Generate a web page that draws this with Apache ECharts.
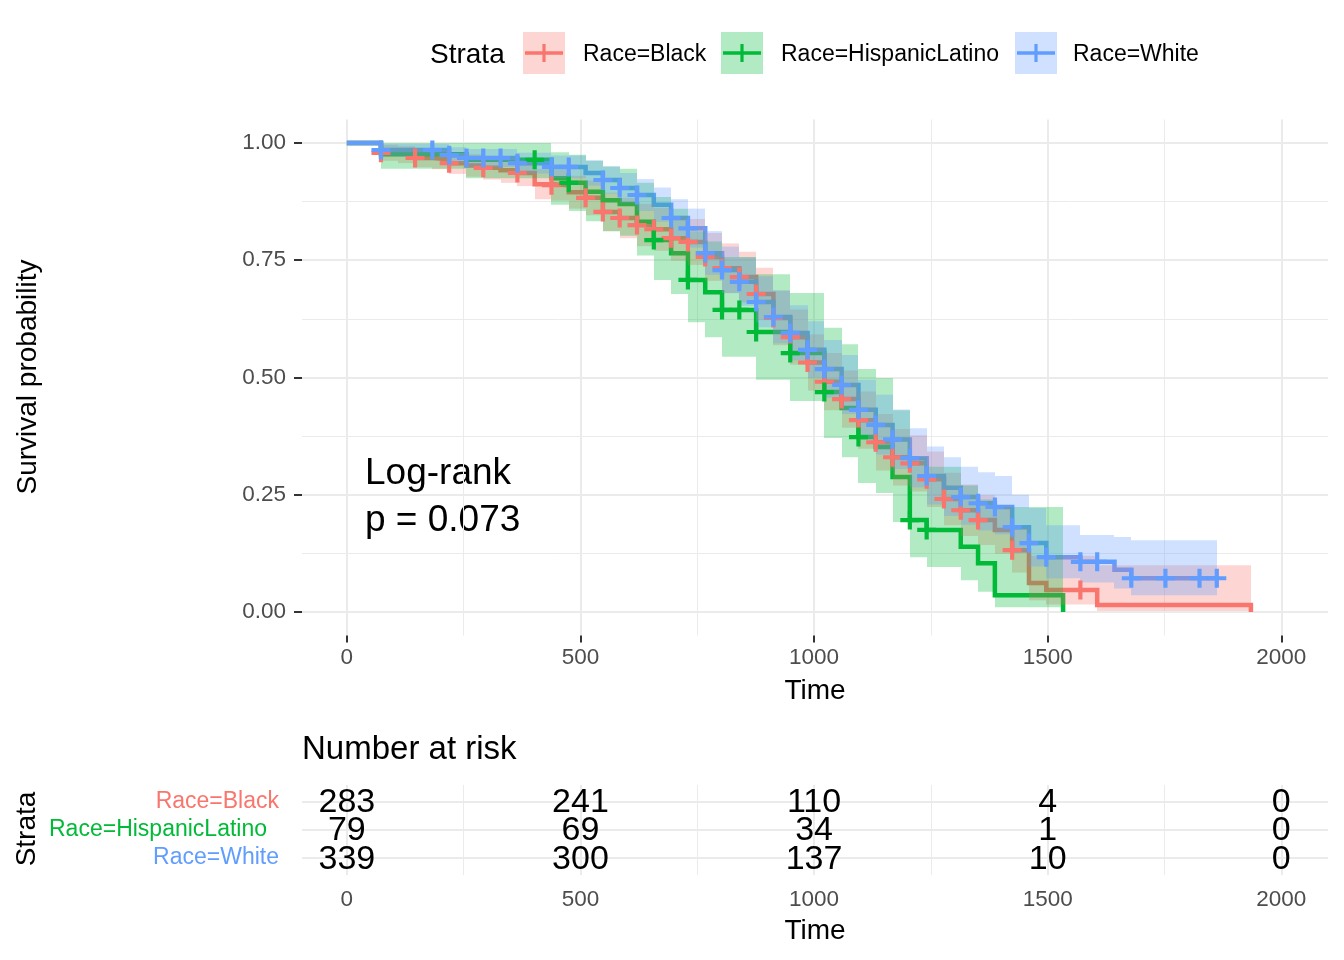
<!DOCTYPE html>
<html>
<head>
<meta charset="utf-8">
<script src="https://cdn.jsdelivr.net/npm/echarts@6.0.0/dist/echarts.min.js"></script>
<style>
html, body { margin: 0; padding: 0; background: #fff; }
#chart { width: 1344px; height: 960px; }
</style>
</head>
<body>
<div id="chart"></div>
<script>
var FONT = '"Liberation Sans", Arial, sans-serif';

//分組名稱與顏色
var strata = ['Race=Black', 'Race=HispanicLatino', 'Race=White'];
var colors = ['#F8766D', '#00BA38', '#619CFF'];
var bandColors = ['rgba(248,118,109,0.3)', 'rgba(0,186,56,0.3)', 'rgba(97,156,255,0.3)'];

//Race=Black 存活曲線
var blackTime = [0, 73, 110, 146, 183, 219, 256, 292, 329, 365, 402, 438, 475, 511, 548, 584, 621, 657, 694, 730,
    767, 803, 840, 876, 913, 949, 986, 1022, 1059, 1095, 1132, 1168, 1205, 1241, 1278, 1314, 1351, 1387, 1424, 1460,
    1497, 1606, 1935];
var blackSurv = [1.000, 0.979, 0.975, 0.968, 0.965, 0.957, 0.952, 0.947, 0.942, 0.936, 0.912, 0.910, 0.895, 0.883, 0.853, 0.840, 0.825, 0.816, 0.797, 0.789,
    0.757, 0.733, 0.714, 0.678, 0.627, 0.586, 0.532, 0.491, 0.454, 0.409, 0.362, 0.330, 0.317, 0.283, 0.241, 0.217, 0.196, 0.175, 0.132, 0.062,
    0.047, 0.015, 0.000];
var blackLower = [1.000, 0.962, 0.957, 0.948, 0.944, 0.934, 0.928, 0.922, 0.915, 0.908, 0.880, 0.877, 0.860, 0.846, 0.812, 0.797, 0.780, 0.770, 0.749, 0.740,
    0.706, 0.680, 0.660, 0.622, 0.569, 0.527, 0.472, 0.430, 0.393, 0.348, 0.302, 0.270, 0.257, 0.224, 0.185, 0.162, 0.143, 0.124, 0.084, 0.025,
    0.016, 0.002, 0.000];
var blackUpper = [1.000, 0.996, 0.993, 0.988, 0.986, 0.980, 0.976, 0.972, 0.969, 0.964, 0.944, 0.943, 0.930, 0.920, 0.894, 0.883, 0.870, 0.862, 0.845, 0.838,
    0.808, 0.786, 0.768, 0.734, 0.685, 0.645, 0.592, 0.552, 0.515, 0.470, 0.422, 0.390, 0.377, 0.342, 0.297, 0.272, 0.249, 0.226, 0.180, 0.120,
    0.120, 0.100, 0.000];
var blackCensor = [73, 146, 219, 292, 365, 438, 511, 548, 584, 621, 657, 694, 730, 767, 803, 840, 876, 913, 949, 986,
    1022, 1059, 1095, 1132, 1168, 1205, 1241, 1278, 1314, 1351, 1424, 1570];

//Race=HispanicLatino 存活曲線
var hispTime = [0, 73, 256, 438, 475, 511, 548, 584, 621, 657, 694, 730, 767, 803, 876, 949, 1022, 1059, 1095, 1132,
    1168, 1205, 1241, 1314, 1351, 1387, 1533];
var hispSurv = [1.000, 0.976, 0.964, 0.925, 0.915, 0.896, 0.878, 0.870, 0.832, 0.793, 0.765, 0.708, 0.682, 0.644, 0.597, 0.552, 0.469, 0.435, 0.373, 0.352,
    0.288, 0.196, 0.175, 0.139, 0.104, 0.036, 0.000];
var hispLower = [1.000, 0.945, 0.925, 0.868, 0.855, 0.833, 0.812, 0.802, 0.760, 0.708, 0.678, 0.618, 0.586, 0.544, 0.495, 0.450, 0.371, 0.330, 0.275, 0.254,
    0.192, 0.117, 0.096, 0.068, 0.043, 0.010, 0.000];
var hispUpper = [1.000, 1.000, 1.000, 0.980, 0.975, 0.962, 0.950, 0.945, 0.915, 0.885, 0.860, 0.812, 0.790, 0.757, 0.720, 0.680, 0.606, 0.571, 0.518, 0.499,
    0.430, 0.330, 0.310, 0.270, 0.240, 0.224, 0.000];
var hispCensor = [402, 475, 657, 730, 803, 840, 876, 949, 1022, 1095, 1205, 1241];

//Race=White 存活曲線
var whiteTime = [0, 73, 219, 256, 365, 438, 511, 548, 584, 621, 657, 694, 730, 767, 803, 840, 876, 913, 949, 986,
    1022, 1059, 1095, 1132, 1168, 1205, 1241, 1278, 1314, 1351, 1387, 1424, 1460, 1497, 1570, 1643, 1679, 1862];
var whiteSurv = [1.000, 0.985, 0.974, 0.968, 0.957, 0.949, 0.936, 0.921, 0.904, 0.889, 0.868, 0.840, 0.818, 0.765, 0.729, 0.704, 0.661, 0.629, 0.595, 0.559,
    0.518, 0.484, 0.431, 0.399, 0.368, 0.328, 0.290, 0.265, 0.245, 0.232, 0.224, 0.181, 0.147, 0.117, 0.107, 0.090, 0.072, 0.072];
var whiteLower = [1.000, 0.972, 0.957, 0.949, 0.935, 0.925, 0.909, 0.892, 0.872, 0.855, 0.832, 0.801, 0.777, 0.719, 0.680, 0.653, 0.607, 0.573, 0.537, 0.499,
    0.457, 0.422, 0.368, 0.336, 0.305, 0.266, 0.229, 0.205, 0.186, 0.174, 0.166, 0.127, 0.097, 0.072, 0.063, 0.050, 0.036, 0.036];
var whiteUpper = [1.000, 0.998, 0.991, 0.987, 0.979, 0.973, 0.963, 0.950, 0.936, 0.923, 0.905, 0.880, 0.860, 0.812, 0.779, 0.756, 0.716, 0.686, 0.654, 0.620,
    0.580, 0.548, 0.495, 0.463, 0.432, 0.392, 0.353, 0.330, 0.310, 0.298, 0.290, 0.250, 0.222, 0.185, 0.164, 0.160, 0.153, 0.153];
var whiteCensor = [73, 183, 219, 256, 292, 329, 365, 438, 475, 548, 584, 621, 694, 730, 767, 803, 840, 876, 913, 949,
    986, 1022, 1059, 1095, 1132, 1168, 1205, 1241, 1314, 1351, 1387, 1424, 1460, 1497, 1570, 1606, 1679, 1752, 1825, 1862];

//風險表
var riskTimes = [0, 500, 1000, 1500, 2000];
var riskBlack = [283, 241, 110, 4, 0];
var riskHisp = [79, 69, 34, 1, 0];
var riskWhite = [339, 300, 137, 10, 0];

//刻度
var xTicks = [0, 500, 1000, 1500, 2000];
var xMinor = [250, 750, 1250, 1750];
var yTicks = [0, 0.25, 0.5, 0.75, 1];
var yMinor = [0.125, 0.375, 0.625, 0.875];

var pValueText = 'Log-rank\np = 0.073';

var groups = [
    { time: blackTime, surv: blackSurv, lower: blackLower, upper: blackUpper, censor: blackCensor, risk: riskBlack },
    { time: hispTime, surv: hispSurv, lower: hispLower, upper: hispUpper, censor: hispCensor, risk: riskHisp },
    { time: whiteTime, surv: whiteSurv, lower: whiteLower, upper: whiteUpper, censor: whiteCensor, risk: riskWhite }
];

var plusPath = 'path://M0,39L39,39L39,0L61,0L61,39L100,39L100,61L61,61L61,100L39,100L39,61L0,61Z';

//取得某時間點的存活率
function survAt(g, t) {
    var v = g.surv[0];
    for (var i = 0; i < g.time.length; i++) {
        if (g.time[i] <= t) v = g.surv[i];
    }
    return v;
}

function pairs(xs, ys) {
    return xs.map(function (x, i) { return [x, ys[i]]; });
}

var series = [];

//存活曲線（最底層）
groups.forEach(function (g, k) {
    series.push({
        type: 'line', name: strata[k], step: 'end', z: 2,
        xAxisIndex: 0, yAxisIndex: 0,
        data: pairs(g.time, g.surv),
        symbol: 'none', silent: true,
        lineStyle: { color: colors[k], width: 4.5, join: 'miter' }
    });
});

//信賴區間（疊在曲線上），每段一個矩形
groups.forEach(function (g, k) {
    var ribbon = [];
    for (var i = 0; i < g.time.length - 1; i++) {
        ribbon.push([g.time[i], g.time[i + 1], g.lower[i], g.upper[i]]);
    }
    series.push({
        type: 'custom', z: 3, silent: true,
        xAxisIndex: 0, yAxisIndex: 0,
        encode: { x: [0, 1], y: [2, 3] },
        data: ribbon,
        renderItem: function (params, api) {
            var a = api.coord([api.value(0), api.value(3)]);
            var b = api.coord([api.value(1), api.value(2)]);
            var x0 = Math.round(a[0]), x1 = Math.round(b[0]);
            return {
                type: 'rect',
                shape: { x: x0, y: a[1], width: x1 - x0, height: b[1] - a[1] },
                style: { fill: bandColors[k] }
            };
        }
    });
});

//刪失標記
groups.forEach(function (g, k) {
    series.push({
        type: 'scatter', z: 4, silent: true,
        xAxisIndex: 0, yAxisIndex: 0,
        symbol: plusPath, symbolSize: 19,
        itemStyle: { color: colors[k], opacity: 1 },
        data: g.censor.map(function (t) { return [t, survAt(g, t)]; })
    });
});

//風險表數字
var riskData = [];
groups.forEach(function (g, k) {
    riskTimes.forEach(function (t, i) {
        riskData.push([t, k + 1, g.risk[i]]);
    });
});
series.push({
    type: 'custom', silent: true,
    xAxisIndex: 2, yAxisIndex: 2,
    data: riskData,
    renderItem: function (params, api) {
        var p = api.coord([api.value(0), api.value(1)]);
        return {
            type: 'text', x: p[0], y: p[1] + 1,
            style: {
                text: String(api.value(2)), fill: '#000',
                font: '34px ' + FONT, align: 'center', verticalAlign: 'middle'
            }
        };
    }
});

var tickLine = { color: '#333333', width: 2 };
var majorGrid = { color: '#EBEBEB', width: 2 };
var minorGrid = { color: '#EBEBEB', width: 1 };
var tickLabel = { color: '#4D4D4D', fontSize: 22.5, fontFamily: FONT };
var noLine = { show: false, onZero: false };
function plain(v) { return String(v); }

var myChart = echarts.init(document.getElementById('chart'), null, { renderer: 'canvas' });
var option = {
    backgroundColor: '#fff',
    animation: false,
    grid: [
        { left: 302, top: 119.5, width: 1026, height: 516, outerBoundsMode: 'none' },
        { left: 302, top: 785, width: 1026, height: 90, outerBoundsMode: 'none' }
    ],
    xAxis: [
        {
            gridIndex: 0, type: 'value', min: -96, max: 2100, position: 'bottom',
            axisLine: noLine,
            axisTick: { show: true, customValues: xTicks, length: 7, lineStyle: tickLine },
            axisLabel: Object.assign({ customValues: xTicks, margin: 11, formatter: plain }, tickLabel),
            splitLine: { show: true, lineStyle: majorGrid }
        },
        {
            gridIndex: 0, type: 'value', min: -96, max: 2100, position: 'top',
            axisLine: noLine,
            axisTick: { show: false, customValues: xMinor },
            axisLabel: { show: false, customValues: xMinor },
            splitLine: { show: true, lineStyle: minorGrid }
        },
        {
            gridIndex: 1, type: 'value', min: -96, max: 2100, position: 'bottom',
            axisLine: noLine,
            axisTick: { show: false, customValues: xTicks },
            axisLabel: Object.assign({ customValues: xTicks, margin: 13, formatter: plain }, tickLabel),
            splitLine: { show: true, lineStyle: majorGrid }
        },
        {
            gridIndex: 1, type: 'value', min: -96, max: 2100, position: 'top',
            axisLine: noLine,
            axisTick: { show: false, customValues: xMinor },
            axisLabel: { show: false, customValues: xMinor },
            splitLine: { show: true, lineStyle: minorGrid }
        }
    ],
    yAxis: [
        {
            gridIndex: 0, type: 'value', min: -0.05, max: 1.05, position: 'left',
            axisLine: noLine,
            axisTick: { show: true, customValues: yTicks, length: 8, lineStyle: tickLine },
            axisLabel: Object.assign({
                customValues: yTicks, margin: 16,
                formatter: function (v) { return v.toFixed(2); }
            }, tickLabel),
            splitLine: { show: true, lineStyle: majorGrid }
        },
        {
            gridIndex: 0, type: 'value', min: -0.05, max: 1.05, position: 'right',
            axisLine: noLine,
            axisTick: { show: false, customValues: yMinor },
            axisLabel: { show: false, customValues: yMinor },
            splitLine: { show: true, lineStyle: minorGrid }
        },
        {
            gridIndex: 1, type: 'value', min: 0.4, max: 3.6, inverse: true, position: 'left',
            axisLine: noLine,
            axisTick: { show: false, customValues: [1, 2, 3] },
            axisLabel: {
                customValues: [1, 2, 3], margin: 23,
                formatter: function (v) { return '{s' + (v - 1) + '|' + strata[v - 1] + '}'; },
                rich: {
                    s0: { color: colors[0], fontSize: 23, fontFamily: FONT },
                    s1: { color: colors[1], fontSize: 23, fontFamily: FONT, padding: [0, 12, 0, 0] },
                    s2: { color: colors[2], fontSize: 23, fontFamily: FONT }
                }
            },
            splitLine: { show: true, lineStyle: majorGrid }
        }
    ],
    graphic: [
        //圖例
        { type: 'text', x: 430, y: 55, style: { text: 'Strata', font: '28px ' + FONT, fill: '#000', verticalAlign: 'middle' } },
        { type: 'rect', shape: { x: 523, y: 32, width: 42, height: 42 }, style: { fill: bandColors[0] } },
        { type: 'line', shape: { x1: 525, y1: 53, x2: 563, y2: 53 }, style: { stroke: colors[0], lineWidth: 3.5 } },
        { type: 'line', shape: { x1: 544, y1: 44, x2: 544, y2: 62 }, style: { stroke: colors[0], lineWidth: 3.2 } },
        { type: 'text', x: 583, y: 55, style: { text: strata[0], font: '23px ' + FONT, fill: '#000', verticalAlign: 'middle' } },
        { type: 'rect', shape: { x: 721, y: 32, width: 42, height: 42 }, style: { fill: bandColors[1] } },
        { type: 'line', shape: { x1: 723, y1: 53, x2: 761, y2: 53 }, style: { stroke: colors[1], lineWidth: 3.5 } },
        { type: 'line', shape: { x1: 742, y1: 44, x2: 742, y2: 62 }, style: { stroke: colors[1], lineWidth: 3.2 } },
        { type: 'text', x: 781, y: 55, style: { text: strata[1], font: '23px ' + FONT, fill: '#000', verticalAlign: 'middle' } },
        { type: 'rect', shape: { x: 1015, y: 32, width: 42, height: 42 }, style: { fill: bandColors[2] } },
        { type: 'line', shape: { x1: 1017, y1: 53, x2: 1055, y2: 53 }, style: { stroke: colors[2], lineWidth: 3.5 } },
        { type: 'line', shape: { x1: 1036, y1: 44, x2: 1036, y2: 62 }, style: { stroke: colors[2], lineWidth: 3.2 } },
        { type: 'text', x: 1073, y: 55, style: { text: strata[2], font: '23px ' + FONT, fill: '#000', verticalAlign: 'middle' } },
        //標題文字
        { type: 'text', x: 28, y: 377, rotation: Math.PI / 2, style: { text: 'Survival probability', font: '28px ' + FONT, fill: '#000', align: 'center', verticalAlign: 'middle' } },
        { type: 'text', x: 815, y: 691, style: { text: 'Time', font: '28px ' + FONT, fill: '#000', align: 'center', verticalAlign: 'middle' } },
        { type: 'text', x: 365, y: 497, style: { text: pValueText, font: '37px ' + FONT, fill: '#000', verticalAlign: 'middle', lineHeight: 47 } },
        { type: 'text', x: 302, y: 750, style: { text: 'Number at risk', font: '33px ' + FONT, fill: '#000', verticalAlign: 'middle' } },
        { type: 'text', x: 27, y: 829, rotation: Math.PI / 2, style: { text: 'Strata', font: '28px ' + FONT, fill: '#000', align: 'center', verticalAlign: 'middle' } },
        { type: 'text', x: 815, y: 931, style: { text: 'Time', font: '28px ' + FONT, fill: '#000', align: 'center', verticalAlign: 'middle' } }
    ],
    series: series
};
myChart.setOption(option);
</script>
</body>
</html>
